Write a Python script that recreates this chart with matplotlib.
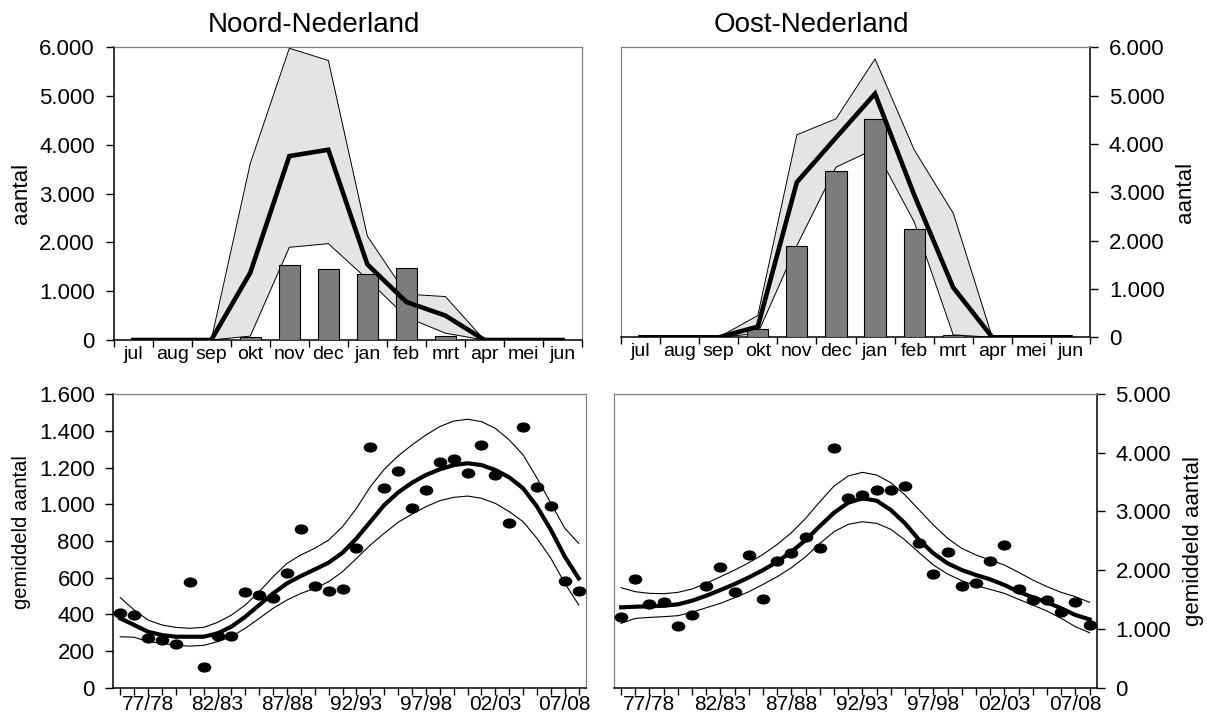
import numpy as np
import matplotlib
matplotlib.use("Agg")
import matplotlib.pyplot as plt
from matplotlib.path import Path
from matplotlib.transforms import Affine2D
from matplotlib.ticker import FuncFormatter, FixedLocator

plt.rcParams['font.family'] = ['Liberation Sans', 'DejaVu Sans']

# ---- seasonal pattern (monthly) ----
months = ['jul', 'aug', 'sep', 'okt', 'nov', 'dec', 'jan', 'feb', 'mrt', 'apr', 'mei', 'jun']

noord_bars = [0, 0, 0, 70, 1545, 1450, 1345, 1483, 90, 0, 0, 0]
noord_mean = [0, 0, 0, 1380, 3770, 3900, 1550, 780, 500, 0, 0, 0]
noord_high = [0, 0, 0, 3620, 5980, 5730, 2130, 940, 890, 0, 0, 0]
noord_low = [0, 0, 0, 80, 1900, 1975, 1245, 470, 140, 0, 0, 0]

oost_bars = [0, 0, 0, 170, 1885, 3435, 4520, 2235, 50, 0, 0, 0]
oost_mean = [0, 0, 0, 220, 3210, 4130, 5040, 2950, 1030, 0, 0, 0]
oost_high = [0, 0, 0, 450, 4190, 4520, 5760, 3880, 2570, 0, 0, 0]
oost_low = [0, 0, 0, 80, 1900, 3520, 3900, 2390, 50, 0, 0, 0]

# ---- long-term trend (per season) ----
seasons = ['75/76', '76/77', '77/78', '78/79', '79/80', '80/81', '81/82', '82/83',
           '83/84', '84/85', '85/86', '86/87', '87/88', '88/89', '89/90', '90/91',
           '91/92', '92/93', '93/94', '94/95', '95/96', '96/97', '97/98', '98/99',
           '99/00', '00/01', '01/02', '02/03', '03/04', '04/05', '05/06', '06/07',
           '07/08', '08/09']
season_labels = ['77/78', '82/83', '87/88', '92/93', '97/98', '02/03', '07/08']

noord_pts = [409, 396, 273, 260, 236, 575, 115, 284, 284, 524, 505, 487, 627, 867,
             556, 527, 538, 762, 1315, 1087, 1182, 982, 1076, 1229, 1249, 1171,
             1324, 1160, 898, 1422, 1096, 991, 584, 529]
noord_trend = [378, 342, 305, 287, 278, 278, 278, 296, 333, 387, 451, 514, 569, 609,
               645, 682, 736, 814, 905, 996, 1065, 1118, 1160, 1191, 1214, 1224,
               1214, 1187, 1147, 1087, 987, 860, 714, 596]
noord_trend_hi = [491, 424, 369, 342, 329, 324, 329, 356, 396, 451, 524, 605, 678, 724,
                  760, 805, 878, 978, 1096, 1191, 1264, 1324, 1378, 1424, 1454, 1464,
                  1451, 1414, 1351, 1269, 1142, 1005, 869, 787]
noord_trend_lo = [278, 275, 251, 242, 231, 227, 231, 251, 278, 324, 378, 433, 478, 514,
                  542, 578, 633, 705, 778, 842, 902, 947, 987, 1020, 1038, 1045,
                  1033, 1005, 960, 905, 814, 705, 569, 451]

oost_pts = [1209, 1844, 1430, 1453, 1044, 1231, 1731, 2060, 1623, 2259, 1510, 2162,
            2298, 2565, 2372, 4075, 3223, 3280, 3371, 3371, 3428, 2457, 1941, 2315,
            1737, 1788, 2162, 2423, 1686, 1487, 1487, 1283, 1453, 1067]
oost_trend = [1368, 1379, 1385, 1396, 1419, 1481, 1566, 1663, 1765, 1878, 2003, 2145,
              2315, 2514, 2752, 2979, 3150, 3223, 3184, 3025, 2798, 2514, 2287, 2117,
              2003, 1918, 1844, 1748, 1634, 1538, 1453, 1351, 1237, 1163]
oost_trend_hi = [1703, 1634, 1606, 1600, 1623, 1680, 1776, 1890, 2003, 2128, 2270, 2440,
                 2639, 2883, 3167, 3433, 3604, 3666, 3621, 3490, 3280, 3025, 2769, 2542,
                 2372, 2259, 2174, 2088, 1964, 1833, 1720, 1623, 1549, 1453]
oost_trend_lo = [1095, 1180, 1197, 1209, 1226, 1283, 1362, 1436, 1532, 1634, 1759, 1890,
                 2043, 2230, 2457, 2656, 2781, 2826, 2798, 2696, 2514, 2298, 2088, 1935,
                 1822, 1737, 1674, 1606, 1504, 1407, 1305, 1180, 1039, 936]

W, H = 1207, 715
fig = plt.figure(figsize=(W / 100, H / 100), dpi=100)


def px_axes(left, top, right, bottom):
    return fig.add_axes([left / W, 1 - bottom / H, (right - left) / W, (bottom - top) / H])


def px_text(x, y, s, **kw):
    fig.text(x / W, 1 - y / H, s, ha='center', va='center', **kw)


def dutch(v, pos=None):
    return f"{int(round(v)):,}".replace(',', '.')


ax_tl = px_axes(113.7, 47.3, 582, 340)
ax_tr = px_axes(621, 47.3, 1090, 337.3)
ax_bl = px_axes(113.3, 394.3, 585.7, 687.7)
ax_br = px_axes(614, 394, 1096.7, 687.7)

band_color = '#e3e4e4'
bar_color = '#7b7c7e'
soft_spine = '#7f7f7f'


def style_spines(ax, side):
    other = 'right' if side == 'left' else 'left'
    for s in ('top', other):
        ax.spines[s].set_color(soft_spine)
        ax.spines[s].set_linewidth(0.9)
    ax.spines[side].set_color('black')
    ax.spines[side].set_linewidth(1.1)
    ax.spines['bottom'].set_color('black')
    ax.spines['bottom'].set_linewidth(1.1)


def monthly(ax, bars, mean, high, low, side):
    x = np.arange(len(months))
    ax.fill_between(x, low, high, color=band_color, linewidth=0, zorder=1)
    ax.plot(x, high, color='black', lw=0.7, zorder=2)
    ax.plot(x, low, color='black', lw=0.7, zorder=2)
    ax.bar(x, bars, width=0.54, color=bar_color, edgecolor='black', linewidth=0.8, zorder=3)
    ax.plot(x, mean, color='black', lw=3.3, solid_joinstyle='miter', zorder=4)
    ax.set_xlim(-0.5, 11.5)
    ax.set_ylim(0, 6000)
    ax.set_yticks(np.arange(0, 6001, 1000))
    ax.yaxis.set_major_formatter(FuncFormatter(dutch))
    ax.set_xticks(np.arange(-0.5, 12, 1))
    ax.set_xticklabels([])
    ax.xaxis.set_minor_locator(FixedLocator(x))
    ax.set_xticks(x, months, minor=True)
    ax.tick_params(axis='x', which='major', direction='out', length=5, width=1)
    ax.tick_params(axis='x', which='minor', length=0, pad=4, labelsize=14)
    ax.tick_params(axis='y', direction='out', length=5.5, width=1, labelsize=16, pad=8)
    if side == 'right':
        ax.yaxis.tick_right()
    style_spines(ax, side)


def trend(ax, pts, tr, hi, lo, ymax, step, side):
    x = np.arange(len(seasons))
    ax.plot(x, hi, color='black', lw=0.8, zorder=2)
    ax.plot(x, lo, color='black', lw=0.8, zorder=2)
    ax.plot(x, tr, color='black', lw=3.0, zorder=3)
    ellipse = Path.unit_circle().transformed(Affine2D().scale(1.0, 0.72))
    ax.plot(x, pts, linestyle='none', marker=ellipse, markersize=8.8,
            color='black', zorder=4)
    ax.set_xlim(-0.5, len(seasons) - 0.5)
    ax.set_ylim(0, ymax)
    ax.set_yticks(np.arange(0, ymax + 1, step))
    ax.yaxis.set_major_formatter(FuncFormatter(dutch))
    ax.set_xticks(x)
    ax.set_xticklabels([s if s in season_labels else '' for s in seasons])
    ax.tick_params(axis='x', direction='out', length=5, width=1, labelsize=15, pad=0.5)
    ax.tick_params(axis='y', direction='out', length=5.5, width=1, labelsize=16, pad=8)
    if side == 'right':
        ax.yaxis.tick_right()
    style_spines(ax, side)


monthly(ax_tl, noord_bars, noord_mean, noord_high, noord_low, 'left')
monthly(ax_tr, oost_bars, oost_mean, oost_high, oost_low, 'right')
trend(ax_bl, noord_pts, noord_trend, noord_trend_hi, noord_trend_lo, 1600, 200, 'left')
trend(ax_br, oost_pts, oost_trend, oost_trend_hi, oost_trend_lo, 5000, 1000, 'right')

# axis titles
px_text(21, 193, 'aantal', rotation=90, fontsize=16)
px_text(1186, 192, 'aantal', rotation=90, fontsize=16)
px_text(22, 532, 'gemiddeld aantal', rotation=90, fontsize=14.5)
px_text(1194, 541, 'gemiddeld aantal', rotation=90, fontsize=16)

# panel titles
px_text(314, 25, 'Noord-Nederland', fontsize=20)
px_text(811, 25, 'Oost-Nederland', fontsize=20)

fig.savefig('out.png', dpi=100)
